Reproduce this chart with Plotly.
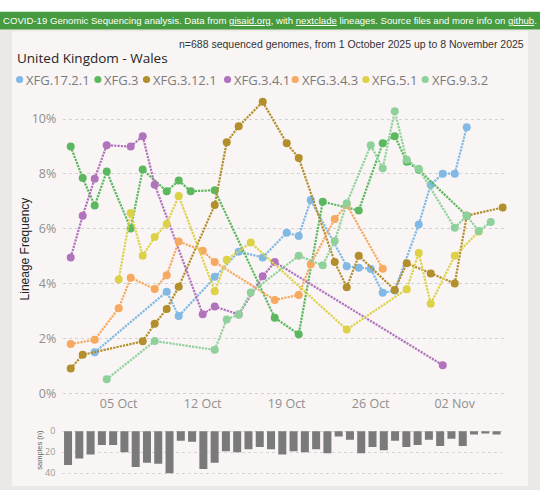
import plotly.graph_objects as go
import pandas as pd

W, H = 540, 497
START = pd.Timestamp("2025-10-01")

# ---- data (day offsets from 1 Oct 2025, lineage frequency in %) ----
lineages = ["XFG.17.2.1", "XFG.3", "XFG.3.12.1", "XFG.3.4.1", "XFG.3.4.3", "XFG.5.1", "XFG.9.3.2"]
colors = ["#80b9e6", "#5cb85f", "#b38f2c", "#b173bc", "#f6a95f", "#ddd247", "#8fd19b"]

xfg17_days = [2, 8, 9, 12, 14, 16, 18, 19, 20, 23, 24, 25, 26, 27, 29, 30, 31, 32, 33]
xfg17_vals = [1.50, 3.71, 2.82, 4.25, 5.17, 4.96, 5.86, 5.74, 7.05, 4.64, 4.58, 4.54, 3.67, 3.75, 6.16, 7.61, 8.01, 8.01, 9.70]

xfg3_days = [0, 1, 2, 3, 5, 6, 8, 9, 10, 12, 17, 19, 21, 24, 26, 27, 28, 29, 33]
xfg3_vals = [9.00, 7.85, 6.85, 8.09, 6.01, 8.16, 7.37, 7.76, 7.37, 7.41, 2.76, 2.16, 6.99, 6.67, 9.12, 9.38, 8.45, 8.15, 6.48]

xfg3121_days = [0, 1, 6, 7, 8, 9, 12, 13, 14, 16, 18, 19, 22, 23, 24, 27, 28, 30, 32, 33, 36]
xfg3121_vals = [0.91, 1.41, 1.90, 2.54, 3.08, 3.89, 6.87, 9.16, 9.74, 10.63, 9.12, 8.58, 4.79, 3.87, 5.02, 3.77, 4.75, 4.37, 4.01, 6.48, 6.78]

xfg341_days = [0, 1, 2, 3, 5, 6, 7, 11, 12, 14, 16, 17, 31]
xfg341_vals = [4.96, 6.48, 7.83, 9.05, 9.00, 9.38, 7.61, 2.89, 3.17, 2.88, 4.27, 4.79, 1.03]

xfg343_days = [0, 2, 4, 5, 7, 8, 9, 11, 12, 17, 19, 20, 22, 23, 26]
xfg343_vals = [1.80, 1.96, 3.11, 4.22, 3.81, 4.31, 5.54, 5.20, 4.79, 3.41, 3.59, 4.71, 6.36, 6.88, 4.55]

xfg51_days = [4, 5, 6, 7, 8, 9, 12, 13, 15, 23, 28, 29, 30, 32, 34]
xfg51_vals = [4.15, 6.58, 5.02, 5.70, 6.18, 7.20, 3.73, 4.87, 5.50, 2.33, 3.80, 5.12, 3.27, 5.02, 5.90]

xfg932_days = [3, 7, 12, 13, 14, 15, 19, 21, 22, 23, 25, 26, 27, 28, 29, 32, 33, 34, 35]
xfg932_vals = [0.52, 1.91, 1.59, 2.70, 2.88, 3.68, 5.02, 4.67, 5.56, 6.93, 9.05, 8.21, 10.29, 8.52, 8.19, 6.04, 6.48, 5.92, 6.25]

series_days = [xfg17_days, xfg3_days, xfg3121_days, xfg341_days, xfg343_days, xfg51_days, xfg932_days]
series_vals = [xfg17_vals, xfg3_vals, xfg3121_vals, xfg341_vals, xfg343_vals, xfg51_vals, xfg932_vals]

# daily number of sequenced samples, 1 Oct .. 8 Nov 2025
samples = [32, 26, 22, 13, 13, 20, 34, 30, 31, 40, 9, 10, 36, 30, 19, 20, 17, 15, 17, 22,
           19, 20, 17, 21, 5, 8, 21, 15, 18, 9, 15, 13, 8, 14, 7, 14, 3, 2, 3]

y_ticks = [0, 2, 4, 6, 8, 10]
y_tick_text = ["0%", "2%", "4%", "6%", "8%", "10%"]
x_tick_dates = ["2025-10-05", "2025-10-12", "2025-10-19", "2025-10-26", "2025-11-02"]
x_tick_text = ["05 Oct", "12 Oct", "19 Oct", "26 Oct", "02 Nov"]
bar_ticks = [0, 20, 40]

title = "United Kingdom - Wales"
subtitle = "n=688 sequenced genomes, from 1 October 2025 up to 8 November 2025"


def fx(px):
    return px / W


def fy(py):
    return 1 - py / H


fig = go.Figure()

for name, col, d, v in zip(lineages, colors, series_days, series_vals):
    fig.add_trace(go.Scatter(
        x=[START + pd.Timedelta(days=k) for k in d], y=v, name=name,
        mode="lines+markers",
        line=dict(color=col, width=2.2, dash="2.2px,1.1px"),
        marker=dict(color=col, size=8),
        xaxis="x", yaxis="y", showlegend=False, hoverinfo="skip"))

bar_dates = [START + pd.Timedelta(days=k) for k in range(len(samples))]
fig.add_trace(go.Bar(x=bar_dates, y=samples, marker=dict(color="#7a7a7a", line=dict(width=0)),
                     xaxis="x2", yaxis="y2", showlegend=False, hoverinfo="skip"))

shapes = [
    dict(type="rect", xref="paper", yref="paper", x0=0, x1=1, y0=0, y1=fy(28),
         fillcolor="#ece8e6", line=dict(width=0), layer="below"),
    dict(type="rect", xref="paper", yref="paper", x0=fx(12), x1=fx(528), y0=fy(493), y1=fy(30),
         fillcolor="#f8f5f4", line=dict(width=0), layer="below"),
    dict(type="rect", xref="paper", yref="paper", x0=0, x1=1, y0=fy(28), y1=fy(10),
         fillcolor="#459b3d", line=dict(width=0), layer="below"),
]

legend_x = [19.6, 97.9, 146.5, 227.6, 295.2, 365.9, 425.2]
annotations = []
r = 3.6
for lx, name, col in zip(legend_x, lineages, colors):
    shapes.append(dict(type="circle", xref="paper", yref="paper",
                       x0=fx(lx - r), x1=fx(lx + r), y0=fy(79 + r), y1=fy(79 - r),
                       fillcolor=col, line=dict(width=0)))
    annotations.append(dict(x=fx(lx + 4.5), y=fy(79), xref="paper", yref="paper",
                            xanchor="left", yanchor="middle", showarrow=False, text=name,
                            font=dict(family="Open Sans", size=13, color="#7b7b7b")))

u = '<span style="text-decoration:underline">%s</span>'
header = ("COVID-19 Genomic Sequencing analysis. Data from " + u % "gisaid.org" + ", with " +
          u % "nextclade" + " lineages. Source files and more info on " + u % "github" + ".")
annotations += [
    dict(x=fx(270), y=fy(19), xref="paper", yref="paper", xanchor="center", yanchor="middle",
         showarrow=False, text=header, font=dict(family="Liberation Sans", size=9.6, color="white")),
    dict(x=fx(526), y=fy(43), xref="paper", yref="paper", xanchor="right", yanchor="middle",
         showarrow=False, text=subtitle, font=dict(family="Liberation Sans", size=10.5, color="#333333")),
    dict(x=fx(15), y=fy(57), xref="paper", yref="paper", xanchor="left", yanchor="middle",
         showarrow=False, text=title, font=dict(family="Open Sans", size=13.5, color="#252525")),
    dict(x=fx(25), y=fy(252), xref="paper", yref="paper", xanchor="center", yanchor="middle",
         showarrow=False, text="Lineage Frequency", textangle=-90,
         font=dict(family="Liberation Sans", size=12, color="#222222")),
    dict(x=fx(40), y=fy(456), xref="paper", yref="paper", xanchor="center", yanchor="middle",
         showarrow=False, text="samples (n)", textangle=-90,
         font=dict(family="Liberation Sans", size=7.5, color="#666666")),
]

fig.update_layout(
    width=W, height=H, autosize=False,
    margin=dict(l=0, r=0, t=0, b=0),
    paper_bgcolor="white", plot_bgcolor="rgba(0,0,0,0)",
    showlegend=False, bargap=0.29,
    shapes=shapes, annotations=annotations,
    xaxis=dict(domain=[fx(63.3), fx(506.7)], type="date",
               range=["2025-09-30 09:11", "2025-11-06 07:55"],
               tickmode="array", tickvals=x_tick_dates, ticktext=x_tick_text,
               showgrid=False, zeroline=False,
               showline=False, ticks="", tickfont=dict(family="Open Sans", size=12.5, color="#8f8f8f")),
    yaxis=dict(domain=[fy(400), fy(96)], range=[-0.0465, 10.833],
               tickmode="array", tickvals=y_ticks, ticktext=y_tick_text,
               showgrid=True, gridcolor="#d2d2d2", griddash="dot", gridwidth=1,
               zeroline=False, showline=False, ticks="", ticklabelstandoff=6,
               tickfont=dict(family="Open Sans", size=12.5, color="#8f8f8f")),
    xaxis2=dict(domain=[fx(62.4), fx(502.2)], type="date", anchor="y2",
                range=["2025-09-30 12:00", "2025-11-08 12:00"],
                showticklabels=False, showgrid=False, zeroline=False, showline=False, ticks=""),
    yaxis2=dict(domain=[fy(486), fy(432)], anchor="x2", range=[45.6, -4.86],
                tickmode="array", tickvals=bar_ticks,
                showgrid=True, gridcolor="#d6d6d6", griddash="dot", gridwidth=1,
                zeroline=False, showline=False, ticks="", ticklabelstandoff=6,
                tickfont=dict(family="Open Sans", size=9, color="#9a9a9a")),
)

fig.write_html("out.html")
